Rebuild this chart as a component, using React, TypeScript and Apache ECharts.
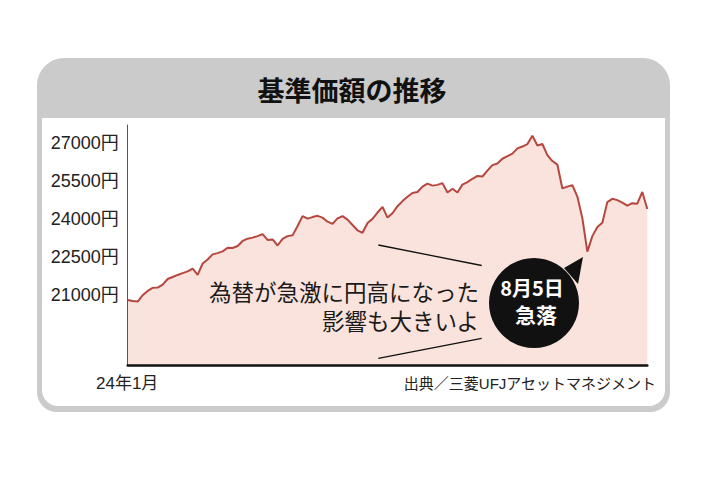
import React, { useEffect, useRef } from "react";
import * as echarts from "echarts";

// Base price (円), Jan 2024 → early Sep 2024, evenly spaced samples
const valuesQ1 = [
  20800, 20760, 20740, 20990, 21160, 21280, 21290, 21410, 21630, 21710,
  21790, 21860, 21930, 22040, 21790, 22240, 22400, 22600, 22650, 22720,
  22860, 22850, 22930, 23130, 23220, 23260, 23320, 23400, 23170, 23190,
  22950, 23210, 23320, 23350, 23720, 24110, 24010, 24070, 24120,
];
const valuesQ2 = [
  24050, 23890, 23800, 24020, 24110, 23970, 23760, 23550, 23450, 23840,
  24000, 24250, 24470, 24050, 24220, 24500, 24700, 24870, 25020, 25060,
  25270, 25390, 25310, 25340, 25410, 25040, 25190, 25040, 25350, 25450,
  25580, 25690, 25670, 25900, 26120, 26180, 26370, 26470, 26570,
];
const valuesQ3 = [
  26780, 26850, 26950, 27280, 26890, 26950, 26510, 26280, 26140, 25200,
  25270, 25330, 24880, 24030, 22710, 23320, 23680, 23850, 24660, 24790,
  24740, 24640, 24520, 24620, 24600, 25060, 24390,
];
const yTickValues = [21000, 22500, 24000, 25500, 27000];
const startLabel = "24年1月";
const sourceLabel = "出典／三菱UFJアセットマネジメント";
const titleText = "基準価額の推移";
const noteLines = ["為替が急激に円高になった", "影響も大きいよ"];
const bubbleLines = ["8月5日", "急落"];

const values = [...valuesQ1, ...valuesQ2, ...valuesQ3];
const categories = values.map((_, i) => String(i));

const JP = '"Noto Sans CJK JP", "Noto Sans", sans-serif';
const NUM = '"Liberation Sans", "Noto Sans CJK JP", sans-serif';

export default function App() {
  const ref = useRef<HTMLDivElement>(null);
  useEffect(() => {
    if (!ref.current) return;
    const chart = echarts.init(ref.current, undefined, { renderer: "svg" });
    chart.setOption({
      animation: false,
      backgroundColor: "#ffffff",
      grid: { left: 127.7, right: 67.7, top: 125, bottom: 115, containLabel: false },
      xAxis: {
        type: "category",
        data: categories,
        boundaryGap: false,
        axisLine: { onZero: false, lineStyle: { color: "#111", width: 2.5 } },
        axisTick: { show: false },
        axisLabel: { show: false },
        splitLine: { show: false },
        z: 5,
      },
      yAxis: {
        type: "value",
        min: 18240,
        max: 27700,
        axisLine: { show: true, lineStyle: { color: "#555", width: 1 } },
        axisTick: { show: false },
        splitLine: { show: false },
        axisLabel: {
          customValues: yTickValues,
          formatter: (v: number) => `${v}円`,
          color: "#222",
          fontSize: 18,
          fontFamily: NUM,
          margin: 9,
        },
        z: 5,
      },
      series: [
        {
          type: "line",
          data: values,
          symbol: "none",
          silent: true,
          lineStyle: { color: "#b5473f", width: 2 },
          areaStyle: { color: "#fae3dc", opacity: 1 },
          z: 2,
        },
      ],
      graphic: [
        {
          type: "rect",
          z: -10,
          silent: true,
          shape: { x: 37, y: 58, width: 633, height: 354, r: [27, 27, 20, 20] },
          style: { fill: "#cbcbcb" },
        },
        {
          type: "rect",
          z: -9,
          silent: true,
          shape: { x: 42, y: 118, width: 623, height: 288, r: [0, 0, 16, 16] },
          style: { fill: "#ffffff" },
        },
        {
          type: "text",
          z: 10,
          x: 352,
          y: 89,
          style: {
            text: titleText,
            fill: "#111",
            fontSize: 27,
            fontWeight: "bold",
            fontFamily: JP,
            textAlign: "center",
            textVerticalAlign: "middle",
          },
        },
        {
          type: "text",
          z: 10,
          x: 96,
          y: 383,
          style: {
            text: startLabel,
            fill: "#222",
            fontSize: 17,
            fontFamily: NUM,
            textAlign: "left",
            textVerticalAlign: "middle",
          },
        },
        {
          type: "text",
          z: 10,
          x: 656,
          y: 383,
          style: {
            text: sourceLabel,
            fill: "#222",
            fontSize: 15,
            fontFamily: NUM,
            textAlign: "right",
            textVerticalAlign: "middle",
          },
        },
        {
          type: "line",
          z: 20,
          shape: { x1: 378.3, y1: 245, x2: 481.7, y2: 265.5 },
          style: { stroke: "#111", lineWidth: 1.3 },
        },
        {
          type: "line",
          z: 20,
          shape: { x1: 378.3, y1: 358.3, x2: 481.7, y2: 338.3 },
          style: { stroke: "#111", lineWidth: 1.3 },
        },
        {
          type: "text",
          z: 20,
          x: 479,
          y: 291,
          style: {
            text: noteLines[0],
            fill: "#1a1a1a",
            fontSize: 22.5,
            lineHeight: 24,
            fontFamily: JP,
            textAlign: "right",
            textVerticalAlign: "middle",
          },
        },
        {
          type: "text",
          z: 20,
          x: 479,
          y: 320,
          style: {
            text: noteLines[1],
            fill: "#1a1a1a",
            fontSize: 22.5,
            lineHeight: 24,
            fontFamily: JP,
            textAlign: "right",
            textVerticalAlign: "middle",
          },
        },
        {
          type: "polygon",
          z: 20,
          shape: { points: [[564, 268], [583, 257], [578, 284]] },
          style: { fill: "#111" },
        },
        {
          type: "circle",
          z: 20,
          shape: { cx: 534, cy: 303, r: 45 },
          style: { fill: "#111" },
        },
        {
          type: "text",
          z: 21,
          x: 532,
          y: 287,
          style: {
            text: bubbleLines[0],
            fill: "#ffffff",
            fontSize: 20,
            lineHeight: 22,
            fontWeight: "bold",
            fontFamily: JP,
            textAlign: "center",
            textVerticalAlign: "middle",
          },
        },
        {
          type: "text",
          z: 21,
          x: 536,
          y: 314,
          style: {
            text: bubbleLines[1],
            fill: "#ffffff",
            fontSize: 21,
            lineHeight: 22,
            fontWeight: "bold",
            fontFamily: JP,
            textAlign: "center",
            textVerticalAlign: "middle",
          },
        },
      ],
    });
    return () => chart.dispose();
  }, []);
  return (
    <div
      ref={ref}
      style={{ position: "fixed", left: 0, top: 0, width: 715, height: 480 }}
    />
  );
}
